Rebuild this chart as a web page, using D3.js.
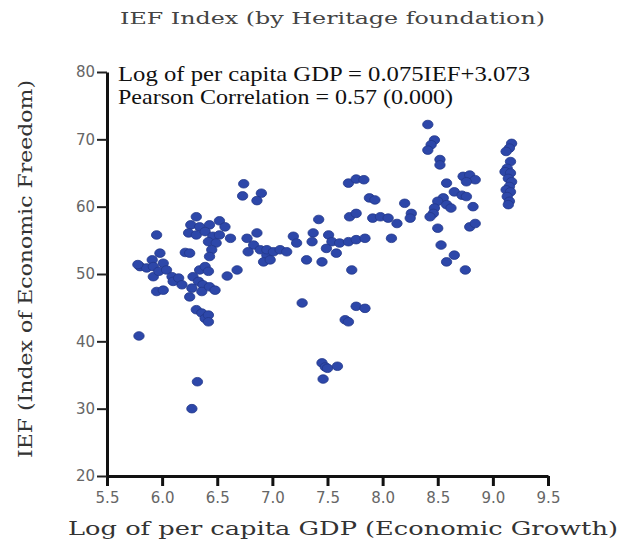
<!DOCTYPE html>
<html>
<head>
<meta charset="utf-8">
<script src="https://d3js.org/d3.v7.min.js"></script>
<style>
    body { margin: 0; background: #fff; }
</style>
</head>
<body>
<script>
// values
var logGdp = [
    6.74, 6.73, 6.90, 6.86, 6.31, 6.26, 6.34, 6.43, 6.52, 6.57, 6.24, 6.31, 6.39, 6.46, 6.52, 6.62,
    6.42, 6.49, 6.45, 6.43, 6.86, 6.77, 6.83, 6.78, 6.89, 6.95, 6.92, 5.95, 5.98, 5.91, 5.80, 5.86,
    5.92, 6.01, 5.92, 5.97, 6.04, 6.09, 6.10, 6.15, 6.18, 5.95, 6.01, 6.21, 6.25, 6.28, 6.34, 6.39,
    6.42, 6.33, 6.37, 6.27, 6.36, 6.43, 6.48, 6.25, 6.59, 6.68, 6.31, 6.36, 6.39, 6.42, 6.42, 5.78,
    5.79, 6.32, 6.27, 7.27, 7.45, 7.48, 7.50, 7.59, 7.46, 7.66, 7.69, 7.76, 7.84,
    7.69, 7.76, 7.83, 7.88, 7.93, 7.70, 7.76, 7.91, 7.98, 8.05, 8.13, 8.20, 8.26, 8.25, 8.08, 7.42,
    7.37, 7.36, 7.19, 7.22, 7.51, 7.54, 7.49, 7.61, 7.69, 7.76, 7.84, 7.58, 6.95, 7.01, 7.07, 7.13,
    6.98, 7.31, 7.45, 7.72,
    8.41, 8.47, 8.44, 8.41, 8.52, 8.52, 8.58, 8.73, 8.79, 8.84, 8.76, 8.65, 8.72, 8.76, 8.82, 8.55,
    8.50, 8.58, 8.62, 8.47, 8.46, 8.43, 8.79, 8.84, 8.50, 8.53, 8.58, 8.65, 8.75,
    9.17, 9.15, 9.12, 9.16, 9.13, 9.11, 9.16, 9.14, 9.17, 9.15, 9.12, 9.16, 9.13, 9.15, 9.14
];
var ief = [
    63.4, 61.6, 62.0, 60.9, 58.5, 57.3, 57.0, 57.3, 57.9, 57.0, 56.1, 55.8, 56.3, 55.6, 55.8, 55.3,
    54.8, 54.6, 53.6, 52.6, 56.1, 55.3, 54.3, 53.3, 53.6, 52.8, 51.8, 55.8, 53.1, 52.1, 51.1, 50.9,
    51.1, 51.6, 49.6, 50.4, 50.6, 49.6, 48.9, 49.4, 48.4, 47.4, 47.6, 53.2, 53.1, 49.6, 50.6, 51.1,
    50.4, 48.9, 48.4, 47.9, 47.4, 48.1, 47.6, 46.6, 49.7, 50.6, 44.7, 44.2, 43.4, 43.9, 42.9, 51.4,
    40.8, 34.0, 30.0, 45.7, 36.8, 36.2, 36.0, 36.3, 34.4, 43.2, 42.9, 45.2, 44.9,
    63.5, 64.1, 64.0, 61.3, 61.0, 58.5, 59.0, 58.3, 58.5, 58.3, 57.5, 60.5, 59.0, 58.3, 55.3, 58.1,
    56.1, 54.8, 55.6, 54.6, 55.8, 54.8, 53.8, 54.6, 54.8, 55.1, 55.3, 53.1, 53.6, 53.3, 53.6, 53.3,
    52.1, 52.1, 51.8, 50.6,
    72.2, 69.9, 69.2, 68.4, 67.0, 66.2, 63.5, 64.5, 64.7, 64.0, 63.7, 62.2, 61.7, 61.5, 60.0, 61.3,
    60.8, 60.3, 59.8, 59.8, 59.0, 58.5, 57.0, 57.5, 56.8, 54.3, 51.8, 52.8, 50.6,
    69.4, 68.7, 68.2, 66.7, 65.7, 65.2, 65.0, 64.2, 63.7, 63.0, 62.5, 62.2, 61.5, 60.8, 60.3
];
var xTicks = [5.5, 6.0, 6.5, 7.0, 7.5, 8.0, 8.5, 9.0, 9.5];
var yTicks = [20, 30, 40, 50, 60, 70, 80];
var chartTitle = "IEF Index (by Heritage foundation)";
var xTitle = "Log of per capita GDP (Economic Growth)";
var yTitle = "IEF (Index of Economic Freedom)";
var notes = ["Log of per capita GDP = 0.075IEF+3.073", "Pearson Correlation = 0.57 (0.000)"];

(function(){

    var w = 625;
    var h = 543;
    var left = 107, right = 548, top = 72, bottom = 476;

    var svg = d3.select("body")
        .append("svg")
        .attr("width", w)
        .attr("height", h);

    var x = d3.scaleLinear().domain([5.5, 9.5]).range([left, right]);
    var y = d3.scaleLinear().domain([20, 80]).range([bottom, top]);

    drawAxes();
    drawPoints();
    drawText();

    function drawAxes(){
        var xAxis = d3.axisBottom(x)
            .tickValues(xTicks)
            .tickFormat(d3.format(".1f"))
            .tickSize(10)
            .tickSizeOuter(0)
            .tickPadding(6);
        var gx = svg.append("g")
            .attr("transform", "translate(0," + bottom + ")")
            .call(xAxis);
        gx.select(".domain").attr("stroke", "#111").attr("stroke-width", 3);
        gx.selectAll(".tick line").attr("stroke", "#111").attr("stroke-width", 3);
        gx.selectAll(".tick text")
            .attr("fill", "#666")
            .style("font-family", "DejaVu Sans, sans-serif")
            .style("font-size", "15px");

        var yAxis = d3.axisLeft(y)
            .tickValues(yTicks)
            .tickSize(10)
            .tickSizeOuter(0)
            .tickPadding(2);
        var gy = svg.append("g")
            .attr("transform", "translate(" + left + ",0)")
            .call(yAxis);
        gy.select(".domain").attr("stroke", "#111").attr("stroke-width", 3);
        gy.selectAll(".tick line").attr("stroke", "#222").attr("stroke-width", 2);
        gy.selectAll(".tick text")
            .attr("fill", "#666")
            .style("font-family", "DejaVu Sans, sans-serif")
            .style("font-size", "15px");
    }

    function drawPoints(){
        svg.append("g")
            .selectAll("ellipse")
            .data(logGdp)
            .enter()
            .append("ellipse")
            .attr("cx", function(d) { return x(d); })
            .attr("cy", function(d, i) { return y(ief[i]); })
            .attr("rx", 5.2)
            .attr("ry", 4.3)
            .attr("fill", "#2d47a9")
            .attr("stroke", "#23388a")
            .attr("stroke-width", 0.8);
    }

    function drawText(){
        //chart title
        svg.append("text")
            .attr("x", 120)
            .attr("y", 24)
            .attr("textLength", 425)
            .attr("lengthAdjust", "spacingAndGlyphs")
            .attr("fill", "#444")
            .style("font-family", "DejaVu Serif, serif")
            .style("font-size", "17px")
            .text(chartTitle);

        //regression notes
        svg.selectAll(".note")
            .data(notes)
            .enter()
            .append("text")
            .attr("class", "note")
            .attr("x", 118)
            .attr("y", function(d, i) { return 81 + i * 23; })
            .attr("textLength", function(d, i) { return i == 0 ? 412 : 335; })
            .attr("lengthAdjust", "spacingAndGlyphs")
            .attr("fill", "#111")
            .style("font-family", "Liberation Serif, serif")
            .style("font-size", "21px")
            .text(function(d) { return d; });

        //axis titles
        svg.append("text")
            .attr("x", 68)
            .attr("y", 535)
            .attr("textLength", 550)
            .attr("lengthAdjust", "spacingAndGlyphs")
            .attr("fill", "#333")
            .style("font-family", "DejaVu Serif, serif")
            .style("font-size", "19px")
            .text(xTitle);

        svg.append("text")
            .attr("transform", "translate(32,458) rotate(-90)")
            .attr("textLength", 378)
            .attr("lengthAdjust", "spacingAndGlyphs")
            .attr("fill", "#333")
            .style("font-family", "DejaVu Serif, serif")
            .style("font-size", "18px")
            .text(yTitle);
    }
}());
</script>
</body>
</html>
